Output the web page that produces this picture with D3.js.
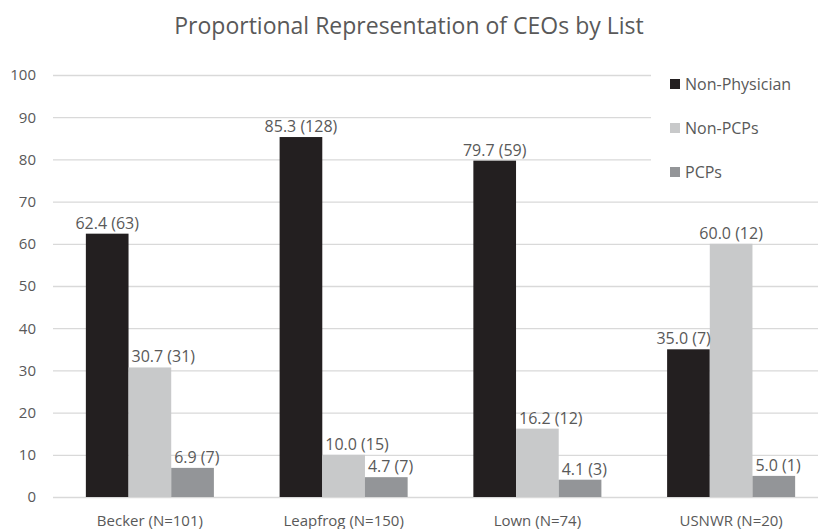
<!DOCTYPE html>
<html>
<head>
<meta charset="utf-8">
<script src="https://cdn.jsdelivr.net/npm/d3@7"></script>
<style>
  body { margin: 0; background: #fff; }
  svg text { font-family: "Open Sans", sans-serif; fill: #595959; }
</style>
</head>
<body>
<svg id="chart"></svg>
<script>
const width = 818, height = 529;

// data
const categories = ["Becker (N=101)", "Leapfrog (N=150)", "Lown (N=74)", "USNWR (N=20)"];
const seriesNames = ["Non-Physician", "Non-PCPs", "PCPs"];
const nonPhysician = [62.4, 85.3, 79.7, 35.0];
const nonPCPs = [30.7, 10.0, 16.2, 60.0];
const pcps = [6.9, 4.7, 4.1, 5.0];
const nonPhysicianN = [63, 128, 59, 7];
const nonPCPsN = [31, 15, 12, 12];
const pcpsN = [7, 7, 3, 1];
const yTicks = [0, 10, 20, 30, 40, 50, 60, 70, 80, 90, 100];

const seriesValues = [nonPhysician, nonPCPs, pcps];
const seriesCounts = [nonPhysicianN, nonPCPsN, pcpsN];
const colors = ["#231f20", "#c8c9ca", "#939598"];

const svg = d3.select("#chart")
  .attr("width", width)
  .attr("height", height);

// scales
const x0 = d3.scaleBand()
  .domain(categories)
  .range([53, 828]);

const x1 = d3.scaleBand()
  .domain(seriesNames)
  .range([0, x0.bandwidth()])
  .paddingOuter(0.77);

const y = d3.scaleLinear()
  .domain([0, 100])
  .range([497, 75]);

// gridlines
svg.append("g")
  .selectAll("line")
  .data(yTicks)
  .enter().append("line")
  .attr("x1", 53)
  .attr("x2", width)
  .attr("y1", d => y(d) + 0.5)
  .attr("y2", d => y(d) + 0.5)
  .attr("stroke", "#d9d9d9")
  .attr("stroke-width", 1.3);

// y tick labels
svg.append("g")
  .selectAll("text")
  .data(yTicks)
  .enter().append("text")
  .attr("x", 36)
  .attr("y", d => y(d))
  .attr("dy", "0.36em")
  .attr("text-anchor", "end")
  .style("font-size", "15px")
  .text(d => d);

// bars
const rows = [];
categories.forEach((c, i) => {
  seriesNames.forEach((s, j) => {
    rows.push({
      cat: c, series: s, idx: j,
      value: seriesValues[j][i], n: seriesCounts[j][i],
      left: j > 0 ? seriesValues[j - 1][i] : null,
      right: j < seriesNames.length - 1 ? seriesValues[j + 1][i] : null
    });
  });
});

svg.append("g")
  .selectAll("rect")
  .data(rows)
  .enter().append("rect")
  .attr("x", d => x0(d.cat) + x1(d.series))
  .attr("y", d => y(d.value))
  .attr("width", x1.bandwidth())
  .attr("height", d => y(0) - y(d.value))
  .attr("fill", d => colors[d.idx]);

// value labels, nudged sideways when a taller neighbour bar is in the way
svg.append("g")
  .selectAll("text")
  .data(rows)
  .enter().append("text")
  .attr("y", d => y(d.value) - 5)
  .attr("text-anchor", "start")
  .style("font-size", "16px")
  .text(d => d.value.toFixed(1) + " (" + d.n + ")")
  .each(function(d) {
    const w = this.getComputedTextLength();
    const barLeft = x0(d.cat) + x1(d.series);
    const barRight = barLeft + x1.bandwidth();
    let lx = barLeft + x1.bandwidth() / 2 - w / 2;
    if (d.left !== null && d.left > d.value && lx < barLeft + 3) lx = barLeft + 3;
    if (d.right !== null && d.right > d.value && lx + w > barRight + 1) lx = barRight + 1 - w;
    d3.select(this).attr("x", lx);
  });

// category labels
svg.append("g")
  .selectAll("text")
  .data(categories)
  .enter().append("text")
  .attr("x", d => x0(d) + x0.bandwidth() / 2)
  .attr("y", 526)
  .attr("text-anchor", "middle")
  .style("font-size", "15px")
  .text(d => d);

// legend, white box over the plot like the original
const legend = svg.append("g");
legend.append("rect")
  .attr("x", 651)
  .attr("y", 62)
  .attr("width", width - 651)
  .attr("height", 128)
  .attr("fill", "#fff");

const legendItems = legend.selectAll("g")
  .data(seriesNames)
  .enter().append("g")
  .attr("transform", (d, i) => `translate(670, ${84 + i * 44})`);

legendItems.append("rect")
  .attr("x", 0)
  .attr("y", -5)
  .attr("width", 10)
  .attr("height", 10)
  .attr("fill", (d, i) => colors[i]);

legendItems.append("text")
  .attr("x", 15)
  .attr("y", 0)
  .attr("dy", "0.36em")
  .style("font-size", "16px")
  .text(d => d);

// title
svg.append("text")
  .attr("x", 409)
  .attr("y", 34)
  .attr("text-anchor", "middle")
  .style("font-size", "23px")
  .text("Proportional Representation of CEOs by List");
</script>
</body>
</html>
